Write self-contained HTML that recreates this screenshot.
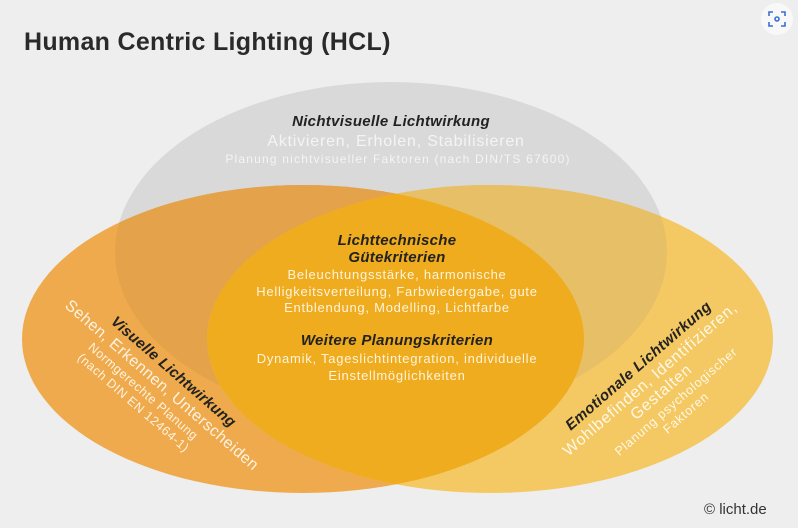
<!DOCTYPE html>
<html><head><meta charset="utf-8"><style>
html,body{margin:0;padding:0;background:#eeeeee;}
svg{display:block;}
text{font-family:"Liberation Sans",Arial,sans-serif;}
</style></head><body>
<svg width="798" height="528" viewBox="0 0 798 528" xmlns="http://www.w3.org/2000/svg">
<defs>
<clipPath id="cG"><ellipse cx="391" cy="252" rx="276" ry="170"/></clipPath>
<clipPath id="cL"><ellipse cx="303" cy="339" rx="281" ry="154"/></clipPath>
</defs>
<rect width="798" height="528" fill="#eeeeee"/>
<ellipse cx="391" cy="252" rx="276" ry="170" fill="#d9d9d9"/>
<ellipse cx="303" cy="339" rx="281" ry="154" fill="#eeaa4c"/>
<ellipse cx="490" cy="339" rx="283" ry="154" fill="#f4c862"/>
<g clip-path="url(#cG)">
<ellipse cx="303" cy="339" rx="281" ry="154" fill="#e4a24a"/>
<ellipse cx="490" cy="339" rx="283" ry="154" fill="#e7bf66"/>
</g>
<g clip-path="url(#cL)">
<ellipse cx="490" cy="339" rx="283" ry="154" fill="#eeac1e"/>
</g>

<text x="24" y="50" font-size="25" font-weight="bold" fill="#2a2a2a" letter-spacing="0.3">Human Centric Lighting (HCL)</text>

<g text-anchor="middle">
<text x="391" y="126" font-size="15" font-weight="bold" font-style="italic" fill="#222" letter-spacing="0.3">Nichtvisuelle Lichtwirkung</text>
<text x="396" y="146" font-size="16" fill="#f4f4f4" letter-spacing="0.8">Aktivieren, Erholen, Stabilisieren</text>
<text x="398" y="163" font-size="12" fill="#f4f4f4" letter-spacing="1.2">Planung nichtvisueller Faktoren (nach DIN/TS 67600)</text>

<text x="397" y="245" font-size="15" font-weight="bold" font-style="italic" fill="#222" letter-spacing="0.3">Lichttechnische</text>
<text x="397" y="262" font-size="15" font-weight="bold" font-style="italic" fill="#222" letter-spacing="0.3">Gütekriterien</text>
<text x="397" y="279" font-size="13" fill="#fff3dc" letter-spacing="0.75">Beleuchtungsstärke, harmonische</text>
<text x="397" y="296" font-size="13" fill="#fff3dc" letter-spacing="0.75">Helligkeitsverteilung, Farbwiedergabe, gute</text>
<text x="397" y="312" font-size="13" fill="#fff3dc" letter-spacing="0.75">Entblendung, Modelling, Lichtfarbe</text>
<text x="397" y="345" font-size="15" font-weight="bold" font-style="italic" fill="#222" letter-spacing="0.3">Weitere Planungskriterien</text>
<text x="397" y="363" font-size="13" fill="#fff3dc" letter-spacing="0.75">Dynamik, Tageslichtintegration, individuelle</text>
<text x="397" y="380" font-size="13" fill="#fff3dc" letter-spacing="0.75">Einstellmöglichkeiten</text>
</g>

<g transform="translate(156,392) rotate(41)" text-anchor="middle">
<text x="0" y="-22" font-size="15" font-weight="bold" font-style="italic" fill="#222" letter-spacing="0.3">Visuelle Lichtwirkung</text>
<text x="0" y="-4" font-size="16" fill="#fff3e0" letter-spacing="0.5">Sehen, Erkennen, Unterscheiden</text>
<text x="-10" y="12" font-size="12.5" fill="#fff3e0" letter-spacing="0.6">Normgerechte Planung</text>
<text x="-10" y="27" font-size="12.5" fill="#fff3e0" letter-spacing="0.6">(nach DIN EN 12464-1)</text>
</g>

<g transform="translate(656,386) rotate(-41)" text-anchor="middle">
<text x="0" y="-22" font-size="15" font-weight="bold" font-style="italic" fill="#222" letter-spacing="0.4">Emotionale Lichtwirkung</text>
<text x="0" y="-4" font-size="16" fill="#fff8e6" letter-spacing="0.8">Wohlbefinden, Identifizieren,</text>
<text x="0" y="13" font-size="16" fill="#fff8e6" letter-spacing="0.8">Gestalten</text>
<text x="5" y="29" font-size="12.5" fill="#fff8e6" letter-spacing="0.8">Planung psychologischer</text>
<text x="5" y="44" font-size="12.5" fill="#fff8e6" letter-spacing="0.8">Faktoren</text>
</g>

<text x="704" y="514" font-size="15" fill="#333">© licht.de</text>

<circle cx="777" cy="19" r="16" fill="#f8f8f8"/>
<g stroke="#3a6fd8" stroke-width="1.6" fill="none">
<path d="M769 16v-4h4M781 12h4v4M785 22v4h-4M773 26h-4v-4"/>
<circle cx="777" cy="19" r="2"/>
</g>
</svg>
</body></html>
